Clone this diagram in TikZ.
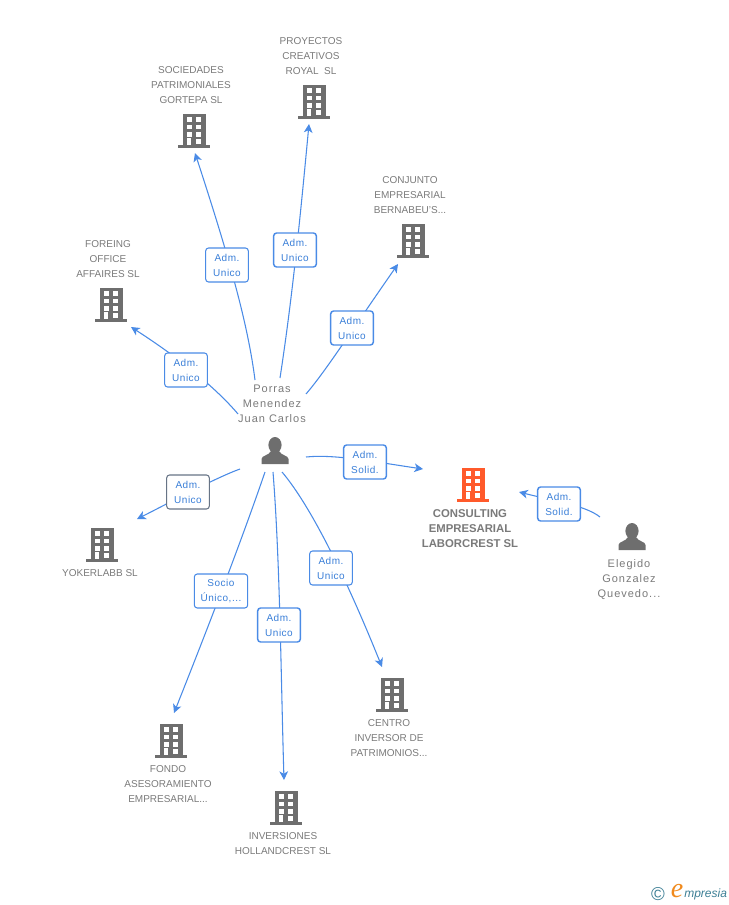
\documentclass[tikz,border=0pt]{standalone}
\usepackage{fontspec}
\setmainfont{Liberation Sans}
\newfontfamily\boxfont[LetterSpace=5]{Liberation Sans}
\newfontfamily\personfont[LetterSpace=9]{Liberation Sans}
\newfontfamily\logofont{Liberation Serif}
\usetikzlibrary{arrows.meta,backgrounds}
\definecolor{iconGray}{HTML}{6E6E6E}
\definecolor{iconOrange}{HTML}{FF5A2B}
\definecolor{txtGray}{HTML}{7A7A7A}
\definecolor{linkBlue}{HTML}{4A8BE6}
\definecolor{boxText}{HTML}{3A7FD8}
\definecolor{logoTeal}{HTML}{3D7F95}
\definecolor{logoOrange}{HTML}{F08A1D}
\tikzset{
  x=0.75pt,y=-0.75pt,
  linkarrow/.style={draw=linkBlue,line width=0.8pt,-{Stealth[length=6.5pt,width=6.5pt,inset=1.8pt]}},
  rolebox/.style={draw=linkBlue,line width=0.8pt,fill=white,rounded corners=2.2pt,
    minimum width=32pt,minimum height=25.5pt,inner sep=0pt,align=center,text=boxText,
    font=\boxfont\fontsize{7.5pt}{11.25pt}\selectfont},
  rolewide/.style={rolebox,minimum width=40pt},
  orglabel/.style={align=center,inner sep=0pt,text=txtGray,font=\fontsize{7.5pt}{11.25pt}\selectfont},
  mainlabel/.style={align=center,inner sep=0pt,text=txtGray,font=\bfseries\fontsize{8.5pt}{11.25pt}\selectfont},
  personlabel/.style={align=center,inner sep=0pt,text=txtGray,font=\personfont\fontsize{8.25pt}{11.25pt}\selectfont},
  pics/bldg/.style={code={
    \fill[#1] (-11,0) rectangle (12,31);
    \fill[#1] (-16,31) rectangle (16,34);
    \foreach \yy in {3.3,10.7,18,25}{
      \fill[white] (2.3,\yy) rectangle (7.3,\yy+4.7);
    }
    \foreach \yy in {3.3,10.7,18}{
      \fill[white] (-7.3,\yy) rectangle (-2.3,\yy+4.7);
    }
    \fill[white] (-7.3,24) rectangle (-2.8,31);
  }},
  pics/persona/.style={code={
    \fill[iconGray] (0,8) ellipse (6.6 and 8);
    \fill[iconGray] (-13.5,27) -- (-13.5,22) .. controls (-13.5,18.5) and (-6,18.5) .. (-4,14)
      -- (4,14) .. controls (6,18.5) and (13.5,18.5) .. (13.5,22) -- (13.5,27) -- cycle;
  }}
}
\begin{document}
\begin{tikzpicture}
\useasboundingbox (0,0) rectangle (728,905);
% icons
\pic at (194,114) {bldg=iconGray};
\pic at (314,85) {bldg=iconGray};
\pic at (413,224) {bldg=iconGray};
\pic at (111,288) {bldg=iconGray};
\pic at (102,528) {bldg=iconGray};
\pic at (473,468) {bldg=iconOrange};
\pic at (171,724) {bldg=iconGray};
\pic at (286,791) {bldg=iconGray};
\pic at (392,678) {bldg=iconGray};
\pic at (275,437) {persona};
\pic at (632,523) {persona};
% labels
\node[orglabel] (lblSoc) at (191,85.5) {SOCIEDADES\\PATRIMONIALES\\GORTEPA SL};
\node[orglabel] (lblPro) at (311,56.5) {PROYECTOS\\CREATIVOS\\ROYAL\ \ SL};
\node[orglabel] (lblCon) at (410,195.5) {CONJUNTO\\EMPRESARIAL\\BERNABEU'S...};
\node[orglabel] (lblFor) at (108,259.5) {FOREING\\OFFICE\\AFFAIRES SL};
\node[orglabel] (lblYok) at (100,573.5) {YOKERLABB SL};
\node[mainlabel] (lblMain) at (470,529) {CONSULTING\\EMPRESARIAL\\LABORCREST SL};
\node[orglabel] (lblFon) at (168,784.5) {FONDO\\ASESORAMIENTO\\EMPRESARIAL...};
\node[orglabel] (lblInv) at (283,844) {INVERSIONES\\HOLLANDCREST SL};
\node[orglabel] (lblCen) at (389,738.5) {CENTRO\\INVERSOR DE\\PATRIMONIOS...};
\node[personlabel] (lblPor) at (272,403.5) {Porras\\Menendez\\Juan Carlos};
\node[personlabel] (lblEle) at (629,579.5) {Elegido\\Gonzalez\\Quevedo...};
% role boxes
\node[rolebox] (bFor) at (186,370) {Adm.\\Unico};
\node[rolebox] (bSoc) at (227,265) {Adm.\\Unico};
\node[rolebox,line width=1.1pt] (bPro) at (295,250) {Adm.\\Unico};
\node[rolebox,line width=1.1pt] (bCon) at (352,328) {Adm.\\Unico};
\node[rolebox,line width=1.1pt] (bSol) at (365,462) {Adm.\\Solid.};
\node[rolebox,draw=iconGray!80!linkBlue] (bYok) at (188,492) {Adm.\\Unico};
\node[rolewide] (bFon) at (221,591) {Socio\\Único,...};
\node[rolebox,line width=1.1pt] (bInv) at (279,625) {Adm.\\Unico};
\node[rolebox] (bCen) at (331,568) {Adm.\\Unico};
\node[rolebox,line width=1.1pt] (bEle) at (559,504) {Adm.\\Solid.};
% free ends
\coordinate (sFor) at (238,414);
\coordinate (eFor) at (131,327);
\coordinate (sSoc) at (255,380);
\coordinate (eSoc) at (195,153);
\coordinate (sPro) at (280,378);
\coordinate (ePro) at (309,124);
\coordinate (sCon) at (306,394);
\coordinate (eCon) at (398,264);
\coordinate (sSol) at (306,457);
\coordinate (eSol) at (423,469);
\coordinate (sYok) at (240,469);
\coordinate (eYok) at (137,519);
\coordinate (sFon) at (265,472);
\coordinate (eFon) at (174,713);
\coordinate (sInv) at (273,472);
\coordinate (eInv) at (284,780);
\coordinate (sCen) at (282,472);
\coordinate (eCen) at (382,667);
\coordinate (sEle) at (600,517);
\coordinate (eEle) at (519,492);
\begin{scope}[on background layer]
\draw[linkarrow] (sFor) .. controls (222,395) and (190,365) .. (eFor);
\draw[linkarrow] (sSoc) .. controls (248,325) and (230,260) .. (eSoc);
\draw[linkarrow] (sPro) .. controls (292,300) and (300,220) .. (ePro);
\draw[linkarrow] (sCon) .. controls (325,372) and (352,330) .. (eCon);
\draw[linkarrow] (sSol) .. controls (335,454) and (375,462) .. (eSol);
\draw[linkarrow] (sYok) .. controls (215,478) and (165,505) .. (eYok);
\draw[linkarrow] (sFon) .. controls (240,545) and (205,635) .. (eFon);
\draw[linkarrow] (sInv) .. controls (280,560) and (281,680) .. (eInv);
\draw[linkarrow] (sCen) .. controls (310,505) and (345,575) .. (eCen);
\draw[linkarrow] (sEle) .. controls (585,505) and (550,500) .. (eEle);
\end{scope}
% logo
\node[inner sep=0pt,text=logoTeal,font=\fontsize{14pt}{14pt}\selectfont] (logoC) at (658,894) {©};
\node[inner sep=0pt,text=logoOrange,font=\logofont\itshape\fontsize{21pt}{21pt}\selectfont] (logoE) at (677,891) {e};
\node[inner sep=0pt,anchor=west,text=logoTeal,font=\itshape\fontsize{9pt}{12pt}\selectfont] (logoT) at (684,894) {mpresia};
\end{tikzpicture}
\end{document}
